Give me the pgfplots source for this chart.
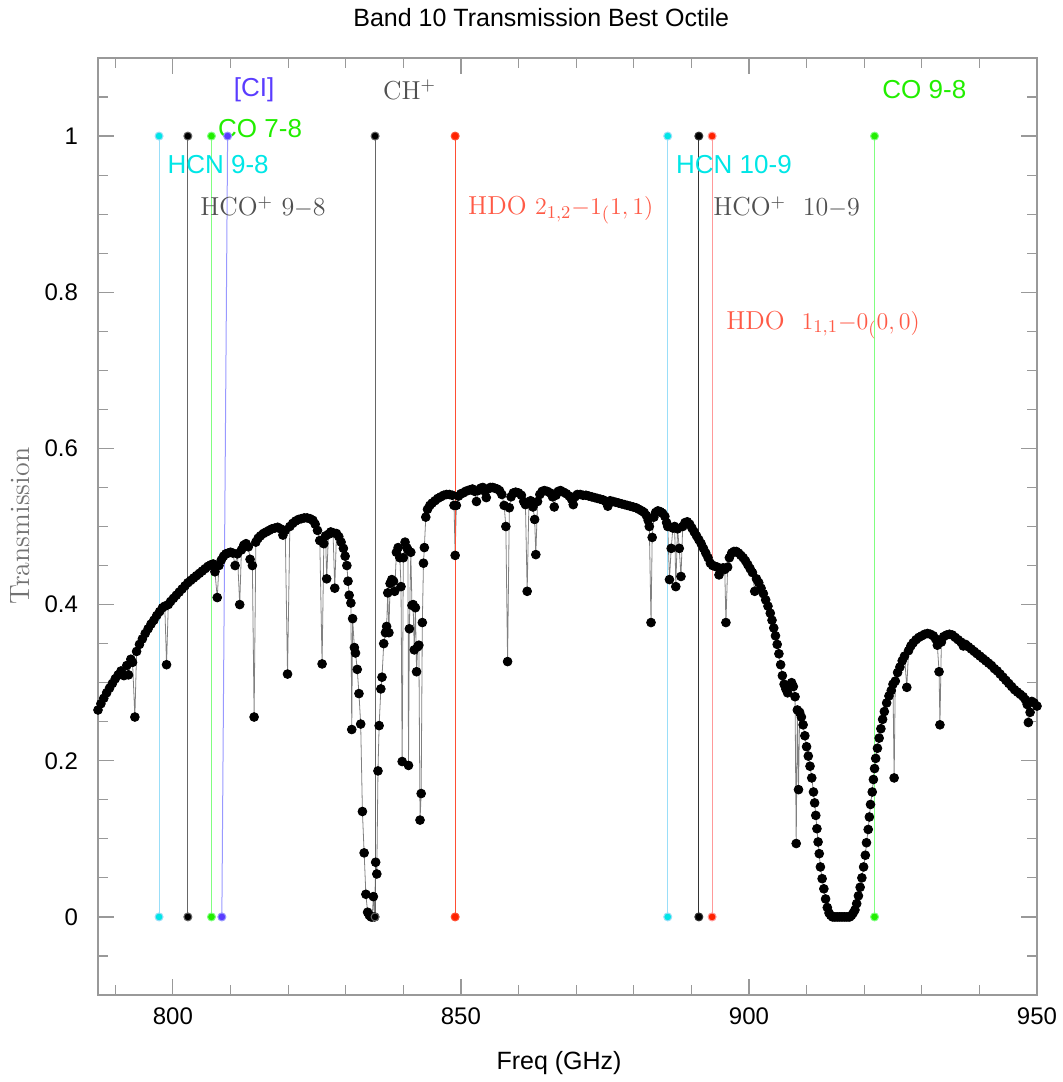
\documentclass[border=0pt]{standalone}
\usepackage{fontspec}
\setsansfont{Liberation Sans}
\usepackage{pgfplots}
\pgfplotsset{compat=1.18}

\definecolor{lcyan}{HTML}{00E6E6}
\definecolor{lgreen}{HTML}{22EE00}
\definecolor{lblue}{HTML}{5A3CFF}
\definecolor{lred}{HTML}{FF5A46}
\definecolor{dred}{HTML}{FF2200}
\definecolor{lgrey}{HTML}{505050}

\begin{document}
\begin{tikzpicture}
\begin{axis}[
  at={(0,0)}, anchor=south west,
  scale only axis, width=469.5pt, height=468.5pt,
  xmin=787, xmax=950, ymin=-0.1, ymax=1.1,
  xtick={800,850,900,950},
  minor xtick={790,810,820,830,840,860,870,880,890,910,920,930,940},
  ytick={0,0.2,0.4,0.6,0.8,1},
  minor ytick={-0.05,0.05,0.1,0.15,0.25,0.3,0.35,0.45,0.5,0.55,0.65,0.7,0.75,0.85,0.9,0.95,1.05},
  tick align=inside,
  major tick length=8pt, minor tick length=5pt,
  tick style={draw=gray!80, line width=0.6pt},
  axis line style={draw=gray!80, line width=0.7pt},
  /pgf/number format/assume math mode=true,
  ticklabel style={font=\sffamily\fontsize{12}{14}\selectfont},
  xticklabel style={yshift=-3pt},
  yticklabel style={xshift=-6.5pt},
]
% transmission curve
\addplot[gray, line width=0.4pt, mark=*, mark size=2.2pt,
  mark options={draw=black, fill=black, solid}] coordinates {
(787.0,0.265) (787.5,0.273) (788.0,0.280) (788.5,0.287) (789.0,0.293) (789.5,0.299)
(790.0,0.305) (790.5,0.310) (791.0,0.315) (791.5,0.309) (792.0,0.322) (792.3,0.310)
(792.7,0.330) (793.0,0.326) (793.4,0.256) (793.7,0.340) (794.2,0.349) (794.7,0.356)
(795.2,0.363) (795.7,0.369) (796.2,0.375) (796.7,0.380) (797.2,0.386) (797.7,0.391)
(798.2,0.396) (798.6,0.398) (798.9,0.323) (799.2,0.400) (799.6,0.404) (800.1,0.408)
(800.6,0.412) (801.1,0.416) (801.6,0.420) (802.1,0.424) (802.6,0.428) (803.1,0.431)
(803.6,0.434) (804.1,0.437) (804.6,0.440) (805.1,0.443) (805.6,0.446) (806.1,0.449)
(806.6,0.451) (807.0,0.452) (807.3,0.442) (807.7,0.409) (808.0,0.450) (808.4,0.457)
(808.8,0.462) (809.2,0.465) (809.6,0.466) (810.0,0.467) (810.4,0.466) (810.8,0.450)
(811.2,0.465) (811.6,0.400) (811.9,0.470) (812.3,0.476) (812.7,0.478) (813.1,0.474)
(813.4,0.458) (813.8,0.450) (814.1,0.256) (814.4,0.480) (814.8,0.485) (815.2,0.488)
(815.7,0.491) (816.2,0.493) (816.7,0.495) (817.2,0.497) (817.7,0.498) (818.2,0.499)
(818.7,0.497) (819.1,0.489) (819.5,0.495) (819.9,0.311) (820.3,0.500) (820.8,0.504)
(821.3,0.507) (821.8,0.509) (822.3,0.510) (822.8,0.511) (823.3,0.511) (823.8,0.510)
(824.3,0.508) (824.7,0.503) (825.1,0.495) (825.5,0.482) (825.9,0.324) (826.2,0.478)
(826.5,0.488) (826.7,0.433) (827.0,0.490) (827.4,0.493) (827.8,0.492) (828.1,0.421)
(828.4,0.491) (828.8,0.487) (829.2,0.480) (829.6,0.472) (829.9,0.462) (830.2,0.450)
(830.4,0.430) (830.6,0.412) (830.9,0.402) (831.05,0.240) (831.2,0.382) (831.5,0.345)
(831.7,0.338) (832.0,0.317) (832.3,0.286) (832.6,0.247) (832.9,0.135) (833.2,0.082)
(833.5,0.029) (833.8,0.006) (834.1,0.002) (834.4,0.000) (834.6,0.000) (834.8,0.026)
(835.0,0.000) (835.2,0.070) (835.4,0.055) (835.6,0.187) (835.8,0.245) (836.1,0.292)
(836.3,0.307) (836.6,0.350) (836.9,0.364) (837.1,0.372) (837.3,0.415) (837.5,0.364)
(837.7,0.427) (838.0,0.432) (838.3,0.430) (838.5,0.417) (838.8,0.467) (839.1,0.473)
(839.4,0.460) (839.6,0.423) (839.8,0.199) (840.0,0.460) (840.3,0.480) (840.6,0.473)
(840.8,0.470) (840.9,0.194) (841.05,0.369) (841.3,0.467) (841.5,0.399) (841.7,0.400)
(841.9,0.342) (842.1,0.396) (842.3,0.314) (842.5,0.346) (842.7,0.348) (842.9,0.124)
(843.1,0.158) (843.3,0.377) (843.5,0.453) (843.65,0.473) (843.9,0.512) (844.2,0.522)
(844.6,0.527) (845.0,0.530) (845.5,0.533) (846.0,0.536) (846.5,0.538) (847.0,0.540)
(847.5,0.541) (848.0,0.541) (848.5,0.540) (848.8,0.527) (849.0,0.463) (849.2,0.527)
(849.6,0.539) (850.0,0.542) (850.4,0.543) (850.8,0.545) (851.2,0.546) (851.6,0.547)
(852.0,0.548) (852.4,0.545) (852.7,0.532) (853.0,0.546) (853.4,0.549) (853.8,0.550)
(854.2,0.545) (854.4,0.537) (854.7,0.548) (855.1,0.550) (855.5,0.550) (855.9,0.549)
(856.3,0.548) (856.7,0.546) (857.1,0.541) (857.5,0.527) (857.8,0.500) (858.1,0.327)
(858.4,0.524) (858.7,0.538) (859.1,0.543) (859.5,0.544) (860.0,0.543) (860.5,0.540)
(860.9,0.532) (861.2,0.528) (861.5,0.417) (861.8,0.530) (862.1,0.533) (862.5,0.525)
(862.8,0.509) (863.0,0.464) (863.3,0.532) (863.7,0.541) (864.1,0.545) (864.5,0.546)
(865.0,0.545) (865.5,0.543) (865.9,0.538) (866.2,0.525) (866.5,0.540) (866.9,0.545)
(867.3,0.546) (867.8,0.544) (868.3,0.542) (868.8,0.539) (869.2,0.535) (869.5,0.528)
(869.8,0.538) (870.2,0.541) (870.7,0.541) (871.2,0.540) (871.7,0.540) (872.2,0.539)
(872.7,0.538) (873.2,0.537) (873.7,0.536) (874.2,0.535) (874.7,0.534) (875.1,0.532)
(875.5,0.526) (875.9,0.533) (876.4,0.532) (876.9,0.531) (877.4,0.530) (877.9,0.529)
(878.4,0.528) (878.9,0.527) (879.4,0.526) (879.9,0.525) (880.4,0.524) (880.9,0.522)
(881.4,0.520) (881.8,0.518) (882.2,0.514) (882.5,0.508) (882.7,0.500) (883.0,0.377)
(883.2,0.486) (883.5,0.512) (883.8,0.518) (884.2,0.520) (884.6,0.519) (885.0,0.517)
(885.4,0.513) (885.7,0.505) (885.9,0.500) (886.2,0.432) (886.5,0.472) (886.8,0.498)
(887.1,0.500) (887.3,0.423) (887.6,0.497) (887.9,0.472) (888.2,0.436) (888.5,0.500)
(888.9,0.505) (889.3,0.506) (889.7,0.503) (890.1,0.498) (890.5,0.493) (890.9,0.488)
(891.3,0.483) (891.7,0.478) (892.1,0.472) (892.5,0.466) (892.9,0.460) (893.3,0.453)
(893.7,0.450) (894.1,0.449) (894.5,0.448) (894.8,0.438) (895.1,0.445) (895.5,0.447)
(895.8,0.445) (896.0,0.377) (896.3,0.448) (896.6,0.460) (897.0,0.466) (897.4,0.468)
(897.8,0.468) (898.2,0.466) (898.6,0.463) (899.0,0.460) (899.4,0.456) (899.8,0.451)
(900.2,0.446) (900.6,0.441) (901.0,0.417) (901.3,0.433) (901.7,0.428) (902.1,0.421)
(902.5,0.414) (902.9,0.406) (903.3,0.398) (903.7,0.389) (904.0,0.380) (904.3,0.370)
(904.6,0.360) (904.9,0.349) (905.2,0.337) (905.5,0.323) (905.8,0.309) (906.1,0.298)
(906.4,0.292) (906.7,0.287) (907.0,0.296) (907.4,0.300) (907.7,0.295) (908.0,0.282)
(908.2,0.094) (908.4,0.265) (908.6,0.163) (908.8,0.262) (909.1,0.256) (909.4,0.246)
(909.7,0.232) (910.0,0.218) (910.3,0.206) (910.6,0.193) (910.9,0.178) (911.2,0.160)
(911.4,0.146) (911.6,0.130) (911.8,0.113) (912.0,0.096) (912.2,0.081) (912.4,0.064)
(912.7,0.049) (913.0,0.036) (913.3,0.023) (913.6,0.012) (913.9,0.005) (914.2,0.002)
(914.5,0.000) (914.8,0.000) (915.1,0.000) (915.4,0.000) (915.7,0.000) (916.0,0.000)
(916.3,0.000) (916.6,0.000) (916.9,0.000) (917.2,0.000) (917.5,0.000) (917.8,0.002)
(918.1,0.005) (918.4,0.009) (918.7,0.017) (919.0,0.027) (919.3,0.038) (919.6,0.050)
(919.9,0.064) (920.2,0.079) (920.4,0.095) (920.7,0.112) (920.9,0.128) (921.1,0.144)
(921.4,0.160) (921.6,0.176) (921.8,0.190) (922.0,0.203) (922.3,0.216) (922.6,0.229)
(922.9,0.241) (923.2,0.253) (923.5,0.263) (923.9,0.274) (924.3,0.283) (924.7,0.290)
(925.0,0.298) (925.2,0.178) (925.4,0.302) (925.8,0.313) (926.2,0.320) (926.6,0.328)
(927.0,0.334) (927.4,0.294) (927.7,0.341) (928.1,0.347) (928.5,0.351) (929.0,0.355)
(929.5,0.358) (930.0,0.360) (930.5,0.362) (931.0,0.363) (931.5,0.362) (932.0,0.360)
(932.4,0.356) (932.7,0.348) (933.0,0.314) (933.15,0.246) (933.4,0.352) (933.8,0.359)
(934.3,0.361) (934.8,0.362) (935.3,0.361) (935.8,0.358) (936.3,0.355) (936.8,0.352)
(937.2,0.347) (937.6,0.349) (938.1,0.346) (938.6,0.343) (939.1,0.340) (939.6,0.337)
(940.1,0.334) (940.6,0.331) (941.1,0.328) (941.6,0.325) (942.1,0.322) (942.6,0.318)
(943.1,0.315) (943.6,0.311) (944.1,0.307) (944.6,0.303) (945.1,0.299) (945.6,0.295)
(946.1,0.291) (946.6,0.288) (947.1,0.285) (947.6,0.282) (948.0,0.278) (948.3,0.272)
(948.5,0.249) (948.8,0.262) (949.1,0.276) (949.5,0.274) (950.0,0.270)
};
% line markers
\addplot[cyan!40, line width=0.5pt, mark=*, mark size=2pt, mark options={draw=none, fill=lcyan}] coordinates {(797.6,0) (797.6,1)};
\addplot[gray!80!black, line width=0.5pt, mark=*, mark size=2pt, mark options={draw=none, fill=black}] coordinates {(802.6,0) (802.6,1)};
\addplot[green!50, line width=0.5pt, mark=*, mark size=2pt, mark options={draw=none, fill=lgreen}] coordinates {(806.7,0) (806.7,1)};
\addplot[blue!40, line width=0.5pt, mark=*, mark size=2pt, mark options={draw=none, fill=lblue}] coordinates {(808.5,0) (809.5,1)};
\addplot[gray!80!black, line width=0.5pt, mark=*, mark size=2pt, mark options={draw=none, fill=black}] coordinates {(835.1,0) (835.1,1)};
\addplot[dred!80, line width=0.5pt, mark=*, mark size=2pt, mark options={draw=none, fill=dred}] coordinates {(849.0,0) (849.0,1)};
\addplot[cyan!40, line width=0.5pt, mark=*, mark size=2pt, mark options={draw=none, fill=lcyan}] coordinates {(885.9,0) (885.9,1)};
\addplot[black!80, line width=0.5pt, mark=*, mark size=2pt, mark options={draw=none, fill=black}] coordinates {(891.3,0) (891.3,1)};
\addplot[red!40, line width=0.5pt, mark=*, mark size=2pt, mark options={draw=none, fill=dred}] coordinates {(893.6,0) (893.6,1)};
\addplot[green!50, line width=0.5pt, mark=*, mark size=2pt, mark options={draw=none, fill=lgreen}] coordinates {(921.8,0) (921.8,1)};
% labels
\node[text=lblue, font=\sffamily\fontsize{13}{15}\selectfont] at (axis cs:814.1,1.059) {[CI]};
\node[text=lgrey, font=\fontsize{13}{15}\selectfont] at (axis cs:841.1,1.059) {CH$^+$};
\node[anchor=west, inner sep=0pt, text=lgreen, font=\sffamily\fontsize{13}{15}\selectfont] at (axis cs:807.8,1.010) {CO 7-8};
\node[anchor=west, inner sep=0pt, text=lcyan, font=\sffamily\fontsize{13}{15}\selectfont] at (axis cs:799.0,0.963) {HCN 9-8};
\node[anchor=west, inner sep=0pt, text=lgrey, font=\fontsize{13}{15}\selectfont] at (axis cs:804.7,0.909) {HCO$^+$ 9$-$8};
\node[anchor=west, inner sep=0pt, text=lred, font=\fontsize{13}{15}\selectfont] at (axis cs:851.2,0.905) {HDO $2_{1,2}{-}1_{(}1,1)$};
\node[anchor=west, inner sep=0pt, text=lcyan, font=\sffamily\fontsize{13}{15}\selectfont] at (axis cs:887.3,0.963) {HCN 10-9};
\node[anchor=west, inner sep=0pt, text=lgrey, font=\fontsize{13}{15}\selectfont] at (axis cs:893.75,0.909) {HCO$^+$\ \ 10$-$9};
\node[anchor=west, inner sep=0pt, text=lred, font=\fontsize{13}{15}\selectfont] at (axis cs:896.0,0.758) {HDO\ \ $1_{1,1}{-}0_{(}0,0)$};
\node[anchor=west, inner sep=0pt, text=lgreen, font=\sffamily\fontsize{13}{15}\selectfont] at (axis cs:923.1,1.059) {CO 9-8};
\end{axis}
\node[font=\sffamily\fontsize{12.5}{15}\selectfont] at (221.6pt,488.5pt) {Band 10 Transmission Best Octile};
\node[font=\sffamily\fontsize{12.5}{15}\selectfont] at (230.5pt,-34pt) {Freq (GHz)};
\node[rotate=90, text=lgrey!80, font=\fontsize{14}{16}\selectfont] at (-39pt,234.5pt) {Transmission};
\pgfresetboundingbox
\path (-49pt,-43.5pt) rectangle (482pt,497.5pt);
\end{tikzpicture}
\end{document}
